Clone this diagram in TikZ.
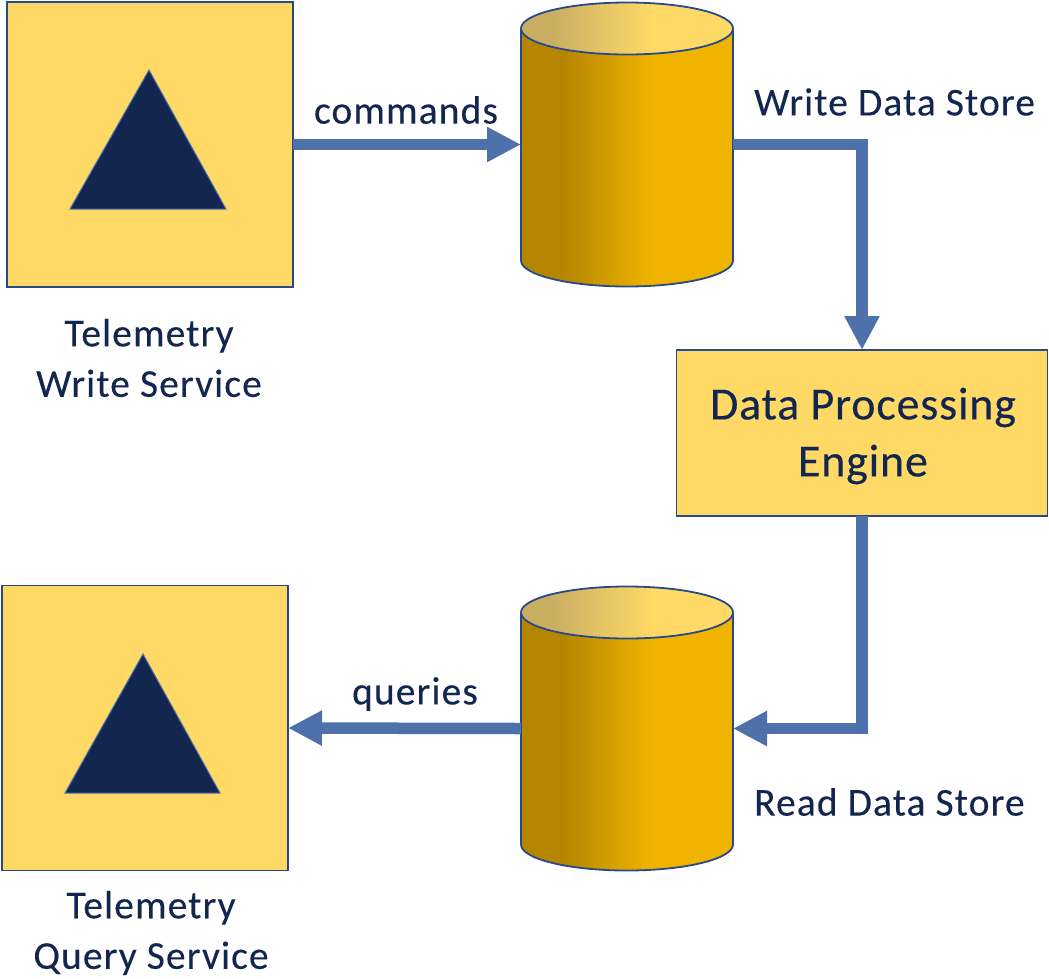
\documentclass[tikz,border=0pt]{standalone}
\usepackage{fontspec}
\setmainfont{Carlito}
\newfontfamily\lblfont[LetterSpace=2.8,FakeBold=0.25]{Carlito}
\newfontfamily\bigfont[LetterSpace=1.8,FakeBold=0.25]{Carlito}
\usetikzlibrary{arrows.meta}
\definecolor{boxfill}{HTML}{FFD966}
\definecolor{boxline}{HTML}{264A8A}
\definecolor{navy}{HTML}{12264F}
\definecolor{flow}{HTML}{4F71AB}
\definecolor{cyldark}{HTML}{B58500}
\definecolor{cyllight}{HTML}{F0B400}
\definecolor{lidleft}{HTML}{C9AE62}
\pgfdeclarehorizontalshading{cylbody}{100bp}{color(0bp)=(cyldark); color(35bp)=(cyldark); color(56bp)=(cyllight); color(100bp)=(cyllight)}
\pgfdeclarehorizontalshading{cyllid}{100bp}{color(0bp)=(lidleft); color(32bp)=(lidleft); color(56bp)=(boxfill); color(100bp)=(boxfill)}
\tikzset{
  x=1pt,y=-1pt,
  svcbox/.style={draw=boxline,line width=1.8pt,fill=boxfill,inner sep=0pt,outer sep=0pt,minimum width=286pt,minimum height=285pt},
  procbox/.style={draw=boxline,line width=1.8pt,fill=boxfill,inner sep=0pt,outer sep=0pt,minimum width=371pt,minimum height=166pt},
  proctext/.style={text=navy,font=\bigfont\fontsize{46}{57}\selectfont,align=center,inner sep=0pt},
  glyph/.style={draw=flow,line width=1pt,fill=navy},
  storebox/.style={inner sep=0pt,outer sep=0pt,minimum width=212pt,minimum height=284pt},
  cyledge/.style={draw=boxline,line width=1.8pt},
  flowline/.style={draw=flow,line width=11.5pt,-{Triangle[length=34pt,width=33pt]}},
  lbl/.style={text=navy,font=\lblfont\fontsize{39.5}{50.5}\selectfont,inner sep=0pt,align=center},
}
\newcommand{\cylshape}[1]{%
  \path[shading=cylbody] ([yshift=-26pt]#1.north west) -- ([yshift=26pt]#1.south west) arc[start angle=180,end angle=360,x radius=106pt,y radius=26pt] -- ([yshift=-26pt]#1.north east) -- cycle;
  \draw[cyledge] ([yshift=-26pt]#1.north west) -- ([yshift=26pt]#1.south west) arc[start angle=180,end angle=360,x radius=106pt,y radius=26pt] -- ([yshift=-26pt]#1.north east);
  \path[shading=cyllid] ([yshift=-26pt]#1.north) ellipse[x radius=106pt,y radius=26pt];
  \draw[cyledge] ([yshift=-26pt]#1.north) ellipse[x radius=106pt,y radius=26pt];
}
\begin{document}
\begin{tikzpicture}
\useasboundingbox (0,0) rectangle (1049,978);
\node[svcbox] (wsvc) at (150,144.5) {};
\node[svcbox] (qsvc) at (145,728) {};
\node[procbox] (dpe) at (862,433) {};
\node[proctext] (dpetext) at (863,436) {Data Processing\\Engine};
\node[storebox] (wstore) at (627,144.5) {};
\node[storebox] (rstore) at (627,728.5) {};
\cylshape{wstore}
\cylshape{rstore}
\draw[glyph] (149,70) -- (226,209) -- (70,209) -- cycle;
\draw[glyph] (143,654) -- (220,793) -- (65,793) -- cycle;
\draw[flowline] (wsvc.east) -- (wstore.west);
\draw[flowline] (wstore.east) -| (dpe.north);
\draw[flowline] (dpe.south) |- (rstore.east);
\draw[flowline] (rstore.west) -- (qsvc.east);
\node[lbl] (lcmd) at (406,110) {commands};
\node[lbl] (lqry) at (415,694) {queries};
\node[lbl,anchor=west] (lwds) at (754,102) {Write Data Store};
\node[lbl,anchor=west] (lrds) at (754,802) {Read Data Store};
\node[lbl] (lwsvc) at (149,358) {Telemetry\\Write Service};
\node[lbl] (lqsvc) at (151,933) {Telemetry\\Query Service};
\end{tikzpicture}
\end{document}
